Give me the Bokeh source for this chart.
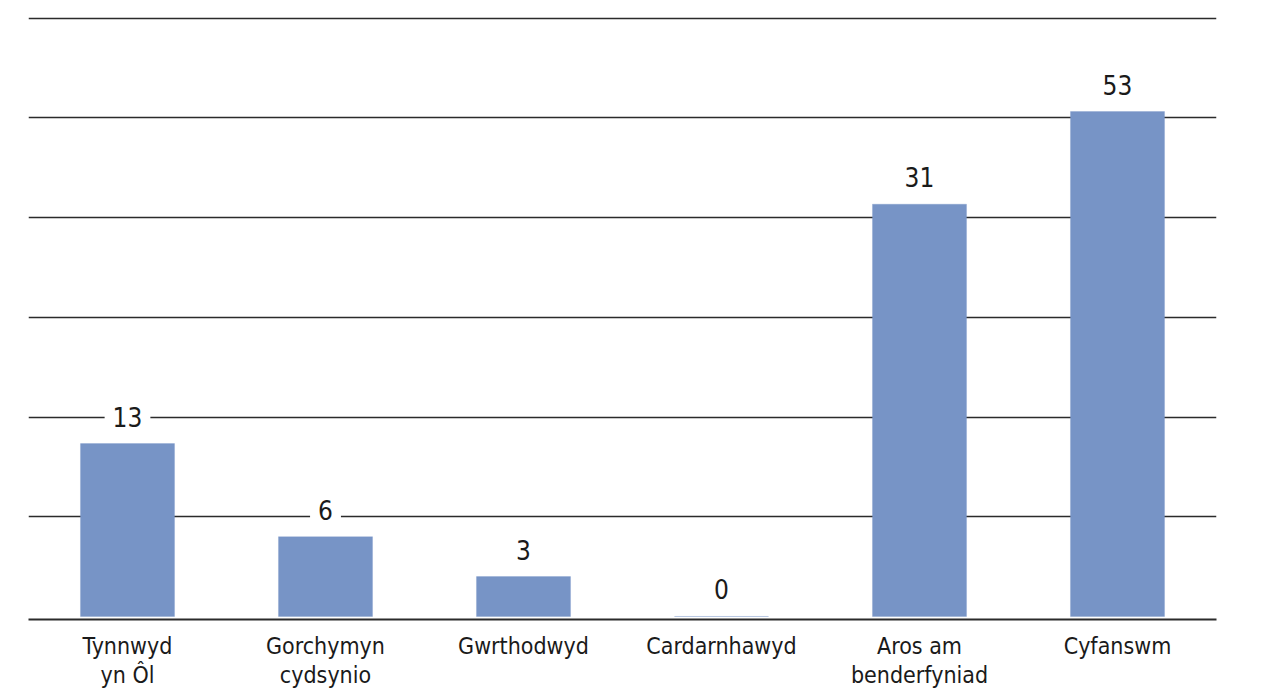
from bokeh.plotting import figure
from bokeh.models import ColumnDataSource, LabelSet, FactorRange, Range1d, FixedTicker
from bokeh.core.properties import value
from bokeh.embed import file_html
from bokeh.resources import INLINE

# ---- data ----
categories = ["Tynnwyd\nyn Ôl", "Gorchymyn\ncydsynio", "Gwrthodwyd",
              "Cardarnhawyd", "Aros am\nbenderfyniad", "Cyfanswm"]
values = [13, 6, 3, 0, 31, 53]
grid_levels = [7.5, 15, 22.5, 30, 37.5, 45]

BAR = "#7794C6"
TXT = "#1a1a1a"
FONT = "DejaVu Sans Condensed"

parts = categories[:-1]
part_vals = values[:-1]
total_cat = categories[-1:]
total_val = values[-1:]

src_parts = ColumnDataSource(dict(x=parts, y=part_vals, t=[str(v) for v in part_vals]))
src_total = ColumnDataSource(dict(x=total_cat, y=total_val, t=[str(v) for v in total_val]))

p = figure(width=1287, height=693,
           x_range=FactorRange(*categories, range_padding=0),
           y_range=Range1d(-0.2256, 45.34),
           output_backend="svg", toolbar_location=None,
           min_border_left=28, min_border_right=71,
           min_border_top=13, min_border_bottom=74)
p.extra_y_ranges = {"total": Range1d(-0.315, 63.29)}

p.outline_line_color = None
p.background_fill_color = "white"
p.border_fill_color = "white"

p.yaxis.visible = False
p.xgrid.grid_line_color = None
p.ygrid.ticker = FixedTicker(ticks=grid_levels)
p.ygrid.grid_line_color = "#2b2b2b"
p.ygrid.grid_line_width = 1.5

ax = p.xaxis[0]
ax.axis_line_color = "#2b2b2b"
ax.axis_line_width = 2
ax.major_tick_line_color = None
ax.minor_tick_line_color = None
ax.major_label_text_font = FONT
ax.major_label_text_font_size = "23px"
ax.major_label_text_color = TXT
ax.major_label_text_line_height = 1.15
ax.major_label_standoff = 13
ax.major_tick_out = 0
ax.major_tick_in = 0

p.vbar(x="x", top="y", bottom=0, width=0.475, source=src_parts,
       fill_color=BAR, line_color=BAR, line_alpha=0.3, line_width=1)
p.vbar(x="x", top="y", bottom=0, width=0.475, source=src_total,
       y_range_name="total",
       fill_color=BAR, line_color=BAR, line_alpha=0.3, line_width=1)

common = dict(text_align="center", text_baseline="alphabetic",
              y_offset=17, text_font=value(FONT), text_font_size=value("26px"),
              text_color=TXT, background_fill_color="white",
              border_line_color="white", border_line_width=16)
lab_parts = LabelSet(x="x", y="y", text="t", source=src_parts, **common)
lab_total = LabelSet(x="x", y="y", text="t", source=src_total,
                     y_range_name="total", **common)
p.add_layout(lab_parts)
p.add_layout(lab_total)

open("out.html", "w").write(file_html(p, INLINE))
